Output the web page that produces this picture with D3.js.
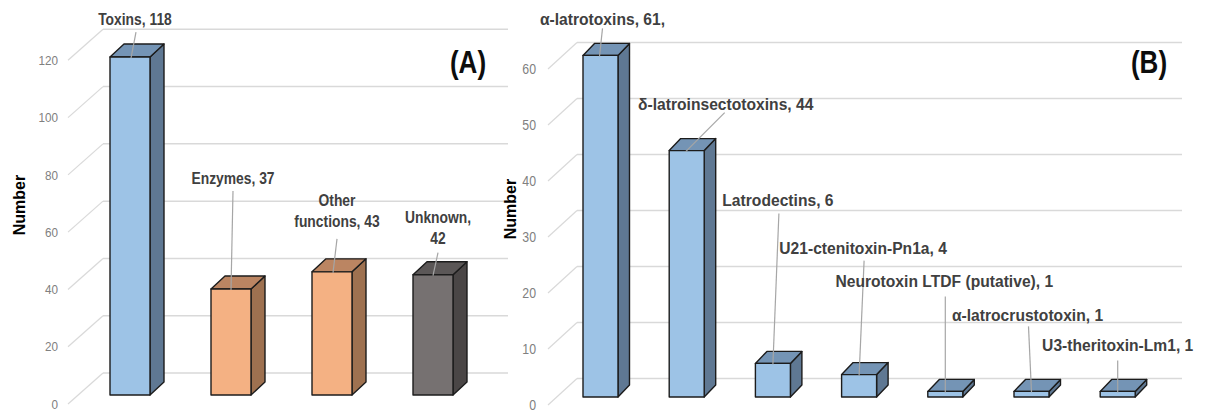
<!DOCTYPE html>
<html>
<head>
<meta charset="utf-8">
<script src="https://cdn.jsdelivr.net/npm/d3@7"></script>
<style>
  html, body { margin: 0; padding: 0; background: #ffffff; }
  svg { display: block; }
</style>
</head>
<body>
<svg id="chart" width="1209" height="412"></svg>
<script>
// ---- Panel A: functional classes ----
const categoriesA = ["Toxins", "Enzymes", "Other functions", "Unknown"];
const valuesA = [118, 37, 43, 42];
const labelLinesA = [["Toxins, 118"], ["Enzymes, 37"], ["Other", "functions, 43"], ["Unknown,", "42"]];
const ticksA = [0, 20, 40, 60, 80, 100, 120];

// ---- Panel B: toxin families ----
const categoriesB = ["α-latrotoxins", "δ-latroinsectotoxins", "Latrodectins", "U21-ctenitoxin-Pn1a",
  "Neurotoxin LTDF (putative)", "α-latrocrustotoxin", "U3-theritoxin-Lm1"];
const valuesB = [61, 44, 6, 4, 1, 1, 1];
const labelLinesB = [["α-latrotoxins, 61,"], ["δ-latroinsectotoxins, 44"], ["Latrodectins, 6"],
  ["U21-ctenitoxin-Pn1a, 4"], ["Neurotoxin LTDF (putative), 1"], ["α-latrocrustotoxin, 1"], ["U3-theritoxin-Lm1, 1"]];
const ticksB = [0, 10, 20, 30, 40, 50, 60];

// Label placement relative to the top-centre of each bar's front face:
// [label dx, label dy (first line centre), leader start dx, leader start dy, leader end dx]
const labelLayoutA = [[5, -38, 6, -25, 1], [2, -111, 2, -98, 0], [5, -72, 5, -33, 1], [5, -58, 5, -22, 0]];
const labelLayoutB = [[2, -37, 2, -27, -1], [39, -47, 38, -38, -1], [5, -164, 6, -150, 0],
  [4, -127, 5, -114, 0], [-1, -111, 0, -95, 0], [-4, -77, -3, -65, 0], [0, -47, 0, -31, 0]];

const palette = {
  blue:   { front: "#9dc3e6", side: "#5f7893", top: "#7494b5" },
  orange: { front: "#f4b183", side: "#9e7150", top: "#bb8562" },
  gray:   { front: "#767171", side: "#4a4646", top: "#5b5757" }
};
const colorsA = ["blue", "orange", "orange", "gray"];
const colorsB = categoriesB.map(() => "blue");

const svg = d3.select("#chart");
const font = "'Liberation Sans', Arial, sans-serif";

function drawPanel(cfg) {
  const g = svg.append("g");
  const y = d3.scaleLinear().domain(cfg.domain).range(cfg.yRange);
  const x = d3.scaleBand().domain(cfg.categories).range(cfg.xRange)
    .paddingInner(cfg.padInner).paddingOuter(cfg.padOuter);
  const w = x.bandwidth();

  // back wall gridlines and floor diagonals
  const grid = g.append("g");
  grid.selectAll("line.h").data(cfg.ticks).join("line")
    .attr("x1", cfg.wallX0).attr("x2", cfg.wallX1)
    .attr("y1", d => y(d) + cfg.wallDy).attr("y2", d => y(d) + cfg.wallDy)
    .attr("stroke", "#d9d9d9").attr("stroke-width", 1.5);
  grid.selectAll("line.d").data(cfg.ticks).join("line")
    .attr("x1", cfg.diagX0).attr("x2", cfg.wallX0)
    .attr("y1", d => y(d) + cfg.labelDy).attr("y2", d => y(d) + cfg.wallDy)
    .attr("stroke", "#d9d9d9").attr("stroke-width", 1.2);

  // tick labels
  const axis = d3.axisLeft(y).tickValues(cfg.ticks).tickSize(0).tickPadding(0).tickFormat(d3.format("d"));
  const ax = g.append("g").attr("transform", `translate(${cfg.axisX},${cfg.labelDy})`).call(axis);
  ax.select(".domain").remove();
  ax.selectAll("text").attr("fill", "#808080").style("font-family", font)
    .style("font-size", cfg.tickSize + "px")
    .attr("transform", `scale(${cfg.condense},1)`);

  // axis title
  g.append("text")
    .attr("transform", `translate(${cfg.titleX},${cfg.titleY}) rotate(-90)`)
    .attr("text-anchor", "middle").attr("dominant-baseline", "central")
    .style("font-family", font).style("font-weight", "bold").style("font-size", "16px")
    .attr("fill", "#000").text("Number");

  // 3D bars
  const dx = cfg.depthX, dy = cfg.depthY, base = y(0);
  const bars = g.append("g").selectAll("g").data(cfg.values).join("g");
  bars.append("polygon").attr("points", (d, i) => {
    const x0 = x(cfg.categories[i]) + w, y0 = y(d);
    return [[x0, y0], [x0 + dx, y0 - dy], [x0 + dx, base - dy], [x0, base]].join(" ");
  }).attr("fill", (d, i) => palette[cfg.colors[i]].side);
  bars.append("polygon").attr("points", (d, i) => {
    const x0 = x(cfg.categories[i]), y0 = y(d);
    return [[x0, y0], [x0 + dx, y0 - dy], [x0 + w + dx, y0 - dy], [x0 + w, y0]].join(" ");
  }).attr("fill", (d, i) => palette[cfg.colors[i]].top);
  bars.append("rect")
    .attr("x", (d, i) => x(cfg.categories[i])).attr("y", d => y(d))
    .attr("width", w).attr("height", d => base - y(d))
    .attr("fill", (d, i) => palette[cfg.colors[i]].front);
  bars.selectAll("polygon, rect").attr("stroke", "#1c1c1c").attr("stroke-width", 1.4)
    .attr("stroke-linejoin", "round");

  // leaders and data labels
  const lab = g.append("g");
  cfg.values.forEach((v, i) => {
    const cx = x(cfg.categories[i]) + w / 2, top = y(v);
    const L = cfg.layout[i];
    lab.append("line")
      .attr("x1", cx + L[2]).attr("y1", top + L[3])
      .attr("x2", cx + L[4]).attr("y2", top + 1)
      .attr("stroke", "#a6a6a6").attr("stroke-width", 1.2);
    const t = lab.append("text")
      .attr("transform", `translate(${cx + L[0]},${top + L[1]}) scale(${cfg.labelCondense},1)`)
      .attr("text-anchor", "middle").attr("fill", "#404040")
      .style("font-family", font).style("font-weight", "bold")
      .style("font-size", cfg.labelSize + "px");
    cfg.labels[i].forEach((line, k) => {
      t.append("tspan").attr("x", 0).attr("y", k * cfg.lineGap).attr("dy", "0.36em").text(line);
    });
  });

  // panel letter
  g.append("text")
    .attr("transform", `translate(${cfg.letterX},${cfg.letterY}) scale(0.84,1)`)
    .attr("text-anchor", "middle").attr("dominant-baseline", "central")
    .style("font-family", font).style("font-weight", "bold").style("font-size", "31px")
    .attr("fill", "#0d0d0d").text(cfg.letter);
}

drawPanel({
  categories: categoriesA, values: valuesA, labels: labelLinesA, layout: labelLayoutA,
  colors: colorsA, ticks: ticksA, domain: [0, 120], yRange: [395, 51.3],
  xRange: [79.5, 483.5], padInner: 0.604, padOuter: 0.302,
  depthX: 14, depthY: 13, wallX0: 103, wallX1: 508, wallDy: -22, labelDy: 9, diagX0: 68,
  axisX: 58, tickSize: 13, condense: 0.9, titleX: 19, titleY: 205,
  labelSize: 16.5, labelCondense: 0.84, lineGap: 21.5, letter: "(A)", letterX: 468, letterY: 62
});

drawPanel({
  categories: categoriesB, values: valuesB, labels: labelLinesB, layout: labelLayoutB,
  colors: colorsB, ticks: ticksB, domain: [0, 60], yRange: [397, 61],
  xRange: [557.4, 1160.8], padInner: 0.594, padOuter: 0.297,
  depthX: 11.5, depthY: 12, wallX0: 577, wallX1: 1182, wallDy: -18.5, labelDy: 8, diagX0: 548,
  axisX: 536, tickSize: 14, condense: 0.88, titleX: 510, titleY: 209,
  labelSize: 17, labelCondense: 0.92, lineGap: 21, letter: "(B)", letterX: 1149, letterY: 62
});
</script>
</body>
</html>
